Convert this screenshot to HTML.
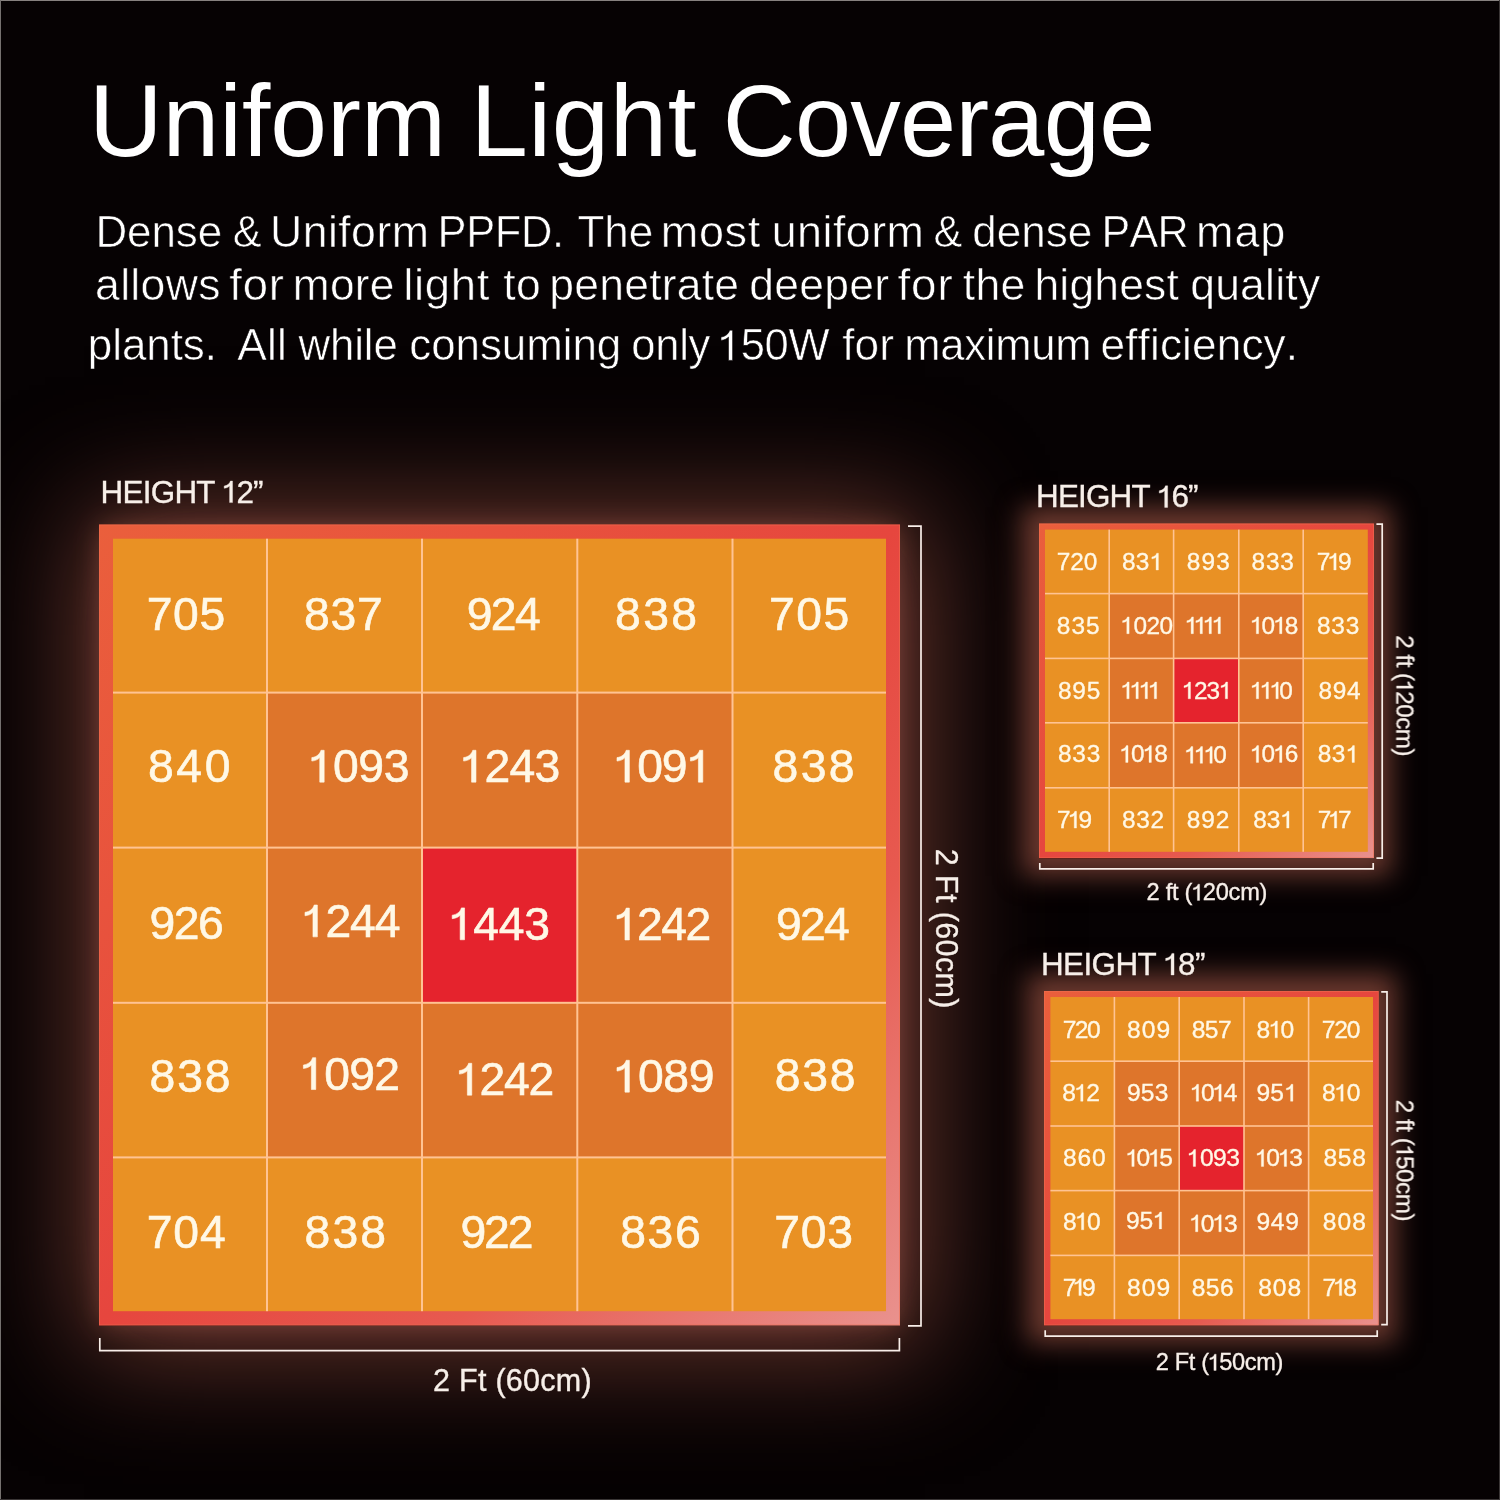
<!DOCTYPE html>
<html><head><meta charset="utf-8"><title>Uniform Light Coverage</title>
<style>
html,body{margin:0;padding:0;background:#060203;}
body{width:1500px;height:1500px;overflow:hidden;position:relative;font-family:"Liberation Sans",sans-serif;}
.gl{position:absolute;}
svg{position:absolute;left:0;top:0;will-change:transform;}
</style></head><body>
<div class="gl" style="left:99px;top:525px;width:801px;height:801px;box-shadow:5px 5px 110px 20px rgb(110,56,47);"></div>
<div class="gl" style="left:99px;top:525px;width:801px;height:801px;box-shadow:0 0 24px 0 rgb(60,31,26);mix-blend-mode:screen;"></div>
<div class="gl" style="left:1039px;top:524px;width:335px;height:335px;box-shadow:0 0 25px 17px #6a382e;"></div>
<div class="gl" style="left:1044px;top:991px;width:335px;height:335px;box-shadow:0 0 25px 17px #6a382e;"></div>
<svg width="1500" height="1500" viewBox="0 0 1500 1500" font-family="'Liberation Sans', sans-serif">
<defs>
<linearGradient id="bgb" x1="0" y1="0" x2="1" y2="1"><stop offset="0" stop-color="#ea5f3c"/><stop offset="0.5" stop-color="#e6463e"/><stop offset="0.72" stop-color="#e75a50"/><stop offset="1" stop-color="#e9928e"/></linearGradient>
<linearGradient id="bg1" x1="0" y1="0" x2="1" y2="1"><stop offset="0" stop-color="#ea5f3c"/><stop offset="0.5" stop-color="#e6463e"/><stop offset="0.72" stop-color="#e75a50"/><stop offset="1" stop-color="#e9928e"/></linearGradient>
<linearGradient id="bg2" x1="0" y1="0" x2="1" y2="1"><stop offset="0" stop-color="#ea5f3c"/><stop offset="0.5" stop-color="#e6463e"/><stop offset="0.72" stop-color="#e75a50"/><stop offset="1" stop-color="#e9928e"/></linearGradient>
</defs>
<rect x="0" y="0" width="1500" height="1" fill="#86817f"/>
<rect x="0" y="0" width="1" height="1500" fill="#75716f"/>
<rect x="1499" y="0" width="1" height="1500" fill="#3a3636"/>
<rect x="0" y="1499" width="1500" height="1" fill="#3a3636"/>
<rect x="99" y="524.5" width="801" height="801" fill="url(#bgb)"/>
<rect x="99.5" y="525.0" width="800" height="800" fill="none" stroke="#ee7050" stroke-opacity="0.55" stroke-width="1"/>
<rect x="113.00" y="538.70" width="154.00" height="153.90" fill="#e99124"/>
<rect x="267.00" y="538.70" width="155.00" height="153.90" fill="#e99124"/>
<rect x="422.00" y="538.70" width="155.30" height="153.90" fill="#e99124"/>
<rect x="577.30" y="538.70" width="155.20" height="153.90" fill="#e99124"/>
<rect x="732.50" y="538.70" width="153.50" height="153.90" fill="#e99124"/>
<rect x="113.00" y="692.60" width="154.00" height="155.00" fill="#e99124"/>
<rect x="267.00" y="692.60" width="155.00" height="155.00" fill="#de752b"/>
<rect x="422.00" y="692.60" width="155.30" height="155.00" fill="#de752b"/>
<rect x="577.30" y="692.60" width="155.20" height="155.00" fill="#de752b"/>
<rect x="732.50" y="692.60" width="153.50" height="155.00" fill="#e99124"/>
<rect x="113.00" y="847.60" width="154.00" height="155.20" fill="#e99124"/>
<rect x="267.00" y="847.60" width="155.00" height="155.20" fill="#de752b"/>
<rect x="422.00" y="847.60" width="155.30" height="155.20" fill="#e5232d"/>
<rect x="577.30" y="847.60" width="155.20" height="155.20" fill="#de752b"/>
<rect x="732.50" y="847.60" width="153.50" height="155.20" fill="#e99124"/>
<rect x="113.00" y="1002.80" width="154.00" height="154.60" fill="#e99124"/>
<rect x="267.00" y="1002.80" width="155.00" height="154.60" fill="#de752b"/>
<rect x="422.00" y="1002.80" width="155.30" height="154.60" fill="#de752b"/>
<rect x="577.30" y="1002.80" width="155.20" height="154.60" fill="#de752b"/>
<rect x="732.50" y="1002.80" width="153.50" height="154.60" fill="#e99124"/>
<rect x="113.00" y="1157.40" width="154.00" height="153.80" fill="#e99124"/>
<rect x="267.00" y="1157.40" width="155.00" height="153.80" fill="#e99124"/>
<rect x="422.00" y="1157.40" width="155.30" height="153.80" fill="#e99124"/>
<rect x="577.30" y="1157.40" width="155.20" height="153.80" fill="#e99124"/>
<rect x="732.50" y="1157.40" width="153.50" height="153.80" fill="#e99124"/>
<rect x="266.00" y="538.7" width="2.0" height="772.5" fill="#ffc393"/>
<rect x="421.00" y="538.7" width="2.0" height="772.5" fill="#ffc393"/>
<rect x="576.30" y="538.7" width="2.0" height="772.5" fill="#ffc393"/>
<rect x="731.50" y="538.7" width="2.0" height="772.5" fill="#ffc393"/>
<rect x="113" y="691.60" width="773" height="2.0" fill="#ffc393"/>
<rect x="113" y="846.60" width="773" height="2.0" fill="#ffc393"/>
<rect x="113" y="1001.80" width="773" height="2.0" fill="#ffc393"/>
<rect x="113" y="1156.40" width="773" height="2.0" fill="#ffc393"/>
<rect x="1039" y="523.5" width="335" height="334.8" fill="url(#bg1)"/>
<rect x="1039.5" y="524.0" width="334" height="333.8" fill="none" stroke="#ee7050" stroke-opacity="0.55" stroke-width="1"/>
<rect x="1045.00" y="529.60" width="64.20" height="64.00" fill="#e99124"/>
<rect x="1109.20" y="529.60" width="64.40" height="64.00" fill="#e99124"/>
<rect x="1173.60" y="529.60" width="65.20" height="64.00" fill="#e99124"/>
<rect x="1238.80" y="529.60" width="64.40" height="64.00" fill="#e99124"/>
<rect x="1303.20" y="529.60" width="64.60" height="64.00" fill="#e99124"/>
<rect x="1045.00" y="593.60" width="64.20" height="64.80" fill="#e99124"/>
<rect x="1109.20" y="593.60" width="64.40" height="64.80" fill="#de752b"/>
<rect x="1173.60" y="593.60" width="65.20" height="64.80" fill="#de752b"/>
<rect x="1238.80" y="593.60" width="64.40" height="64.80" fill="#de752b"/>
<rect x="1303.20" y="593.60" width="64.60" height="64.80" fill="#e99124"/>
<rect x="1045.00" y="658.40" width="64.20" height="64.40" fill="#e99124"/>
<rect x="1109.20" y="658.40" width="64.40" height="64.40" fill="#de752b"/>
<rect x="1173.60" y="658.40" width="65.20" height="64.40" fill="#e5232d"/>
<rect x="1238.80" y="658.40" width="64.40" height="64.40" fill="#de752b"/>
<rect x="1303.20" y="658.40" width="64.60" height="64.40" fill="#e99124"/>
<rect x="1045.00" y="722.80" width="64.20" height="65.00" fill="#e99124"/>
<rect x="1109.20" y="722.80" width="64.40" height="65.00" fill="#de752b"/>
<rect x="1173.60" y="722.80" width="65.20" height="65.00" fill="#de752b"/>
<rect x="1238.80" y="722.80" width="64.40" height="65.00" fill="#de752b"/>
<rect x="1303.20" y="722.80" width="64.60" height="65.00" fill="#e99124"/>
<rect x="1045.00" y="787.80" width="64.20" height="64.00" fill="#e99124"/>
<rect x="1109.20" y="787.80" width="64.40" height="64.00" fill="#e99124"/>
<rect x="1173.60" y="787.80" width="65.20" height="64.00" fill="#e99124"/>
<rect x="1238.80" y="787.80" width="64.40" height="64.00" fill="#e99124"/>
<rect x="1303.20" y="787.80" width="64.60" height="64.00" fill="#e99124"/>
<rect x="1108.40" y="529.6" width="1.6" height="322.2" fill="#ffc393"/>
<rect x="1172.80" y="529.6" width="1.6" height="322.2" fill="#ffc393"/>
<rect x="1238.00" y="529.6" width="1.6" height="322.2" fill="#ffc393"/>
<rect x="1302.40" y="529.6" width="1.6" height="322.2" fill="#ffc393"/>
<rect x="1045" y="592.80" width="322.8" height="1.6" fill="#ffc393"/>
<rect x="1045" y="657.60" width="322.8" height="1.6" fill="#ffc393"/>
<rect x="1045" y="722.00" width="322.8" height="1.6" fill="#ffc393"/>
<rect x="1045" y="787.00" width="322.8" height="1.6" fill="#ffc393"/>
<rect x="1044" y="991" width="334.8" height="334.5" fill="url(#bg2)"/>
<rect x="1044.5" y="991.5" width="333.8" height="333.5" fill="none" stroke="#ee7050" stroke-opacity="0.55" stroke-width="1"/>
<rect x="1050.40" y="997.00" width="64.00" height="64.20" fill="#e99124"/>
<rect x="1114.40" y="997.00" width="64.80" height="64.20" fill="#e99124"/>
<rect x="1179.20" y="997.00" width="64.80" height="64.20" fill="#e99124"/>
<rect x="1244.00" y="997.00" width="64.60" height="64.20" fill="#e99124"/>
<rect x="1308.60" y="997.00" width="64.40" height="64.20" fill="#e99124"/>
<rect x="1050.40" y="1061.20" width="64.00" height="64.80" fill="#e99124"/>
<rect x="1114.40" y="1061.20" width="64.80" height="64.80" fill="#de752b"/>
<rect x="1179.20" y="1061.20" width="64.80" height="64.80" fill="#de752b"/>
<rect x="1244.00" y="1061.20" width="64.60" height="64.80" fill="#de752b"/>
<rect x="1308.60" y="1061.20" width="64.40" height="64.80" fill="#e99124"/>
<rect x="1050.40" y="1126.00" width="64.00" height="64.60" fill="#e99124"/>
<rect x="1114.40" y="1126.00" width="64.80" height="64.60" fill="#de752b"/>
<rect x="1179.20" y="1126.00" width="64.80" height="64.60" fill="#e5232d"/>
<rect x="1244.00" y="1126.00" width="64.60" height="64.60" fill="#de752b"/>
<rect x="1308.60" y="1126.00" width="64.40" height="64.60" fill="#e99124"/>
<rect x="1050.40" y="1190.60" width="64.00" height="64.80" fill="#e99124"/>
<rect x="1114.40" y="1190.60" width="64.80" height="64.80" fill="#de752b"/>
<rect x="1179.20" y="1190.60" width="64.80" height="64.80" fill="#de752b"/>
<rect x="1244.00" y="1190.60" width="64.60" height="64.80" fill="#de752b"/>
<rect x="1308.60" y="1190.60" width="64.40" height="64.80" fill="#e99124"/>
<rect x="1050.40" y="1255.40" width="64.00" height="63.80" fill="#e99124"/>
<rect x="1114.40" y="1255.40" width="64.80" height="63.80" fill="#e99124"/>
<rect x="1179.20" y="1255.40" width="64.80" height="63.80" fill="#e99124"/>
<rect x="1244.00" y="1255.40" width="64.60" height="63.80" fill="#e99124"/>
<rect x="1308.60" y="1255.40" width="64.40" height="63.80" fill="#e99124"/>
<rect x="1113.60" y="997" width="1.6" height="322.2" fill="#ffc393"/>
<rect x="1178.40" y="997" width="1.6" height="322.2" fill="#ffc393"/>
<rect x="1243.20" y="997" width="1.6" height="322.2" fill="#ffc393"/>
<rect x="1307.80" y="997" width="1.6" height="322.2" fill="#ffc393"/>
<rect x="1050.4" y="1060.40" width="322.6" height="1.6" fill="#ffc393"/>
<rect x="1050.4" y="1125.20" width="322.6" height="1.6" fill="#ffc393"/>
<rect x="1050.4" y="1189.80" width="322.6" height="1.6" fill="#ffc393"/>
<rect x="1050.4" y="1254.60" width="322.6" height="1.6" fill="#ffc393"/>
<g transform="translate(0,629.74) scale(1.0000,1)" fill="#fff8e6"><text x="146.63 173.11 199.59" y="0" font-size="46.3" stroke="#fff8e6" stroke-width="0.6">705</text></g>
<g transform="translate(0,629.74) scale(1.0000,1)" fill="#fff8e6"><text x="303.99 330.48 356.98" y="0" font-size="46.3" stroke="#fff8e6" stroke-width="0.6">837</text></g>
<g transform="translate(0,629.74) scale(1.0000,1)" fill="#fff8e6"><text x="466.63 490.87 515.11" y="0" font-size="46.3" stroke="#fff8e6" stroke-width="0.6">924</text></g>
<g transform="translate(0,629.74) scale(1.0000,1)" fill="#fff8e6"><text x="614.99 643.13 671.26" y="0" font-size="46.3" stroke="#fff8e6" stroke-width="0.6">838</text></g>
<g transform="translate(0,629.74) scale(1.0000,1)" fill="#fff8e6"><text x="769.03 796.31 823.59" y="0" font-size="46.3" stroke="#fff8e6" stroke-width="0.6">705</text></g>
<g transform="translate(0,782.14) scale(1.0000,1)" fill="#fff8e6"><text x="147.99 176.32 204.66" y="0" font-size="46.3" stroke="#fff8e6" stroke-width="0.6">840</text></g>
<g transform="translate(0,782.14) scale(1.0000,1)" fill="#fff8e6"><text x="332.92 358.30 383.68" y="0" font-size="46.3" stroke="#fff8e6" stroke-width="0.6">093</text><path d="M0.264,0 L0.359,0 L0.359,0.688 L0.290,0.688 C0.270,0.610 0.200,0.545 0.092,0.530 L0.092,0.455 C0.170,0.462 0.230,0.490 0.264,0.530 Z" transform="translate(307.54,0) scale(46.3,-46.3)" stroke="#fff8e6" stroke-width="0.0130"/></g>
<g transform="translate(0,782.14) scale(1.0000,1)" fill="#fff8e6"><text x="484.42 509.50 534.58" y="0" font-size="46.3" stroke="#fff8e6" stroke-width="0.6">243</text><path d="M0.264,0 L0.359,0 L0.359,0.688 L0.290,0.688 C0.270,0.610 0.200,0.545 0.092,0.530 L0.092,0.455 C0.170,0.462 0.230,0.490 0.264,0.530 Z" transform="translate(459.34,0) scale(46.3,-46.3)" stroke="#fff8e6" stroke-width="0.0130"/></g>
<g transform="translate(0,782.14) scale(1.0000,1)" fill="#fff8e6"><text x="637.22 661.70" y="0" font-size="46.3" stroke="#fff8e6" stroke-width="0.6">09</text><path d="M0.264,0 L0.359,0 L0.359,0.688 L0.290,0.688 C0.270,0.610 0.200,0.545 0.092,0.530 L0.092,0.455 C0.170,0.462 0.230,0.490 0.264,0.530 Z" transform="translate(612.74,0) scale(46.3,-46.3)" stroke="#fff8e6" stroke-width="0.0130"/><path d="M0.264,0 L0.359,0 L0.359,0.688 L0.290,0.688 C0.270,0.610 0.200,0.545 0.092,0.530 L0.092,0.455 C0.170,0.462 0.230,0.490 0.264,0.530 Z" transform="translate(686.18,0) scale(46.3,-46.3)" stroke="#fff8e6" stroke-width="0.0130"/></g>
<g transform="translate(0,782.14) scale(1.0000,1)" fill="#fff8e6"><text x="772.59 800.73 828.86" y="0" font-size="46.3" stroke="#fff8e6" stroke-width="0.6">838</text></g>
<g transform="translate(0,939.24) scale(1.0000,1)" fill="#fff8e6"><text x="149.43 173.76 198.08" y="0" font-size="46.3" stroke="#fff8e6" stroke-width="0.6">926</text></g>
<g transform="translate(0,936.86) scale(1.0000,1)" fill="#fff8e6"><text x="325.40 350.05 374.71" y="0" font-size="46.3" stroke="#fff8e6" stroke-width="0.6">244</text><path d="M0.264,0 L0.359,0 L0.359,0.688 L0.290,0.688 C0.270,0.610 0.200,0.545 0.092,0.530 L0.092,0.455 C0.170,0.462 0.230,0.490 0.264,0.530 Z" transform="translate(300.74,0) scale(46.3,-46.3)" stroke="#fff8e6" stroke-width="0.0130"/></g>
<g transform="translate(0,939.74) scale(1.0000,1)" fill="#fff8e6"><text x="473.36 498.77 524.18" y="0" font-size="46.3" stroke="#fff8e6" stroke-width="0.6">443</text><path d="M0.264,0 L0.359,0 L0.359,0.688 L0.290,0.688 C0.270,0.610 0.200,0.545 0.092,0.530 L0.092,0.455 C0.170,0.462 0.230,0.490 0.264,0.530 Z" transform="translate(447.94,0) scale(46.3,-46.3)" stroke="#fff8e6" stroke-width="0.0130"/></g>
<g transform="translate(0,939.96) scale(1.0000,1)" fill="#fff8e6"><text x="637.02 661.30 685.58" y="0" font-size="46.3" stroke="#fff8e6" stroke-width="0.6">242</text><path d="M0.264,0 L0.359,0 L0.359,0.688 L0.290,0.688 C0.270,0.610 0.200,0.545 0.092,0.530 L0.092,0.455 C0.170,0.462 0.230,0.490 0.264,0.530 Z" transform="translate(612.74,0) scale(46.3,-46.3)" stroke="#fff8e6" stroke-width="0.0130"/></g>
<g transform="translate(0,939.74) scale(1.0000,1)" fill="#fff8e6"><text x="776.03 800.02 824.01" y="0" font-size="46.3" stroke="#fff8e6" stroke-width="0.6">924</text></g>
<g transform="translate(0,1092.14) scale(1.0000,1)" fill="#fff8e6"><text x="149.59 177.23 204.86" y="0" font-size="46.3" stroke="#fff8e6" stroke-width="0.6">838</text></g>
<g transform="translate(0,1089.54) scale(1.0000,1)" fill="#fff8e6"><text x="324.15 349.17 374.18" y="0" font-size="46.3" stroke="#fff8e6" stroke-width="0.6">092</text><path d="M0.264,0 L0.359,0 L0.359,0.688 L0.290,0.688 C0.270,0.610 0.200,0.545 0.092,0.530 L0.092,0.455 C0.170,0.462 0.230,0.490 0.264,0.530 Z" transform="translate(299.14,0) scale(46.3,-46.3)" stroke="#fff8e6" stroke-width="0.0130"/></g>
<g transform="translate(0,1095.16) scale(1.0000,1)" fill="#fff8e6"><text x="479.62 504.10 528.58" y="0" font-size="46.3" stroke="#fff8e6" stroke-width="0.6">242</text><path d="M0.264,0 L0.359,0 L0.359,0.688 L0.290,0.688 C0.270,0.610 0.200,0.545 0.092,0.530 L0.092,0.455 C0.170,0.462 0.230,0.490 0.264,0.530 Z" transform="translate(455.14,0) scale(46.3,-46.3)" stroke="#fff8e6" stroke-width="0.0130"/></g>
<g transform="translate(0,1092.14) scale(1.0000,1)" fill="#fff8e6"><text x="638.04 663.34 688.64" y="0" font-size="46.3" stroke="#fff8e6" stroke-width="0.6">089</text><path d="M0.264,0 L0.359,0 L0.359,0.688 L0.290,0.688 C0.270,0.610 0.200,0.545 0.092,0.530 L0.092,0.455 C0.170,0.462 0.230,0.490 0.264,0.530 Z" transform="translate(612.74,0) scale(46.3,-46.3)" stroke="#fff8e6" stroke-width="0.0130"/></g>
<g transform="translate(0,1090.54) scale(1.0000,1)" fill="#fff8e6"><text x="774.69 802.28 829.86" y="0" font-size="46.3" stroke="#fff8e6" stroke-width="0.6">838</text></g>
<g transform="translate(0,1248.24) scale(1.0000,1)" fill="#fff8e6"><text x="146.63 173.32 200.01" y="0" font-size="46.3" stroke="#fff8e6" stroke-width="0.6">704</text></g>
<g transform="translate(0,1248.24) scale(1.0000,1)" fill="#fff8e6"><text x="304.59 332.43 360.26" y="0" font-size="46.3" stroke="#fff8e6" stroke-width="0.6">838</text></g>
<g transform="translate(0,1248.24) scale(1.0000,1)" fill="#fff8e6"><text x="460.43 484.10 507.78" y="0" font-size="46.3" stroke="#fff8e6" stroke-width="0.6">922</text></g>
<g transform="translate(0,1248.24) scale(1.0000,1)" fill="#fff8e6"><text x="620.19 647.59 674.98" y="0" font-size="46.3" stroke="#fff8e6" stroke-width="0.6">836</text></g>
<g transform="translate(0,1248.24) scale(1.0000,1)" fill="#fff8e6"><text x="774.33 800.81 827.28" y="0" font-size="46.3" stroke="#fff8e6" stroke-width="0.6">703</text></g>
<g transform="translate(0,570.00) scale(1.0000,1)" fill="#fff8e6"><text x="1056.65 1070.17 1083.68" y="0" font-size="24.4" stroke="#fff8e6" stroke-width="0.35">720</text></g>
<g transform="translate(0,570.00) scale(1.0000,1)" fill="#fff8e6"><text x="1122.04 1135.84" y="0" font-size="24.4" stroke="#fff8e6" stroke-width="0.35">83</text><path d="M0.264,0 L0.359,0 L0.359,0.688 L0.290,0.688 C0.270,0.610 0.200,0.545 0.092,0.530 L0.092,0.455 C0.170,0.462 0.230,0.490 0.264,0.530 Z" transform="translate(1149.64,0) scale(24.4,-24.4)" stroke="#fff8e6" stroke-width="0.0143"/></g>
<g transform="translate(0,570.00) scale(1.0000,1)" fill="#fff8e6"><text x="1186.74 1201.47 1216.20" y="0" font-size="24.4" stroke="#fff8e6" stroke-width="0.35">893</text></g>
<g transform="translate(0,570.00) scale(1.0000,1)" fill="#fff8e6"><text x="1251.54 1265.92 1280.30" y="0" font-size="24.4" stroke="#fff8e6" stroke-width="0.35">833</text></g>
<g transform="translate(0,570.00) scale(1.0000,1)" fill="#fff8e6"><text x="1316.75 1337.99" y="0" font-size="24.4" stroke="#fff8e6" stroke-width="0.35">79</text><path d="M0.264,0 L0.359,0 L0.359,0.688 L0.290,0.688 C0.270,0.610 0.200,0.545 0.092,0.530 L0.092,0.455 C0.170,0.462 0.230,0.490 0.264,0.530 Z" transform="translate(1327.37,0) scale(24.4,-24.4)" stroke="#fff8e6" stroke-width="0.0143"/></g>
<g transform="translate(0,633.70) scale(1.0000,1)" fill="#fff8e6"><text x="1056.84 1071.40 1085.95" y="0" font-size="24.4" stroke="#fff8e6" stroke-width="0.35">835</text></g>
<g transform="translate(0,633.70) scale(1.0000,1)" fill="#fff8e6"><text x="1133.43 1146.51 1159.58" y="0" font-size="24.4" stroke="#fff8e6" stroke-width="0.35">020</text><path d="M0.264,0 L0.359,0 L0.359,0.688 L0.290,0.688 C0.270,0.610 0.200,0.545 0.092,0.530 L0.092,0.455 C0.170,0.462 0.230,0.490 0.264,0.530 Z" transform="translate(1120.36,0) scale(24.4,-24.4)" stroke="#fff8e6" stroke-width="0.0143"/></g>
<g transform="translate(0,633.69) scale(1.0000,1)" fill="#fff8e6"><path d="M0.264,0 L0.359,0 L0.359,0.688 L0.290,0.688 C0.270,0.610 0.200,0.545 0.092,0.530 L0.092,0.455 C0.170,0.462 0.230,0.490 0.264,0.530 Z" transform="translate(1184.66,0) scale(24.4,-24.4)" stroke="#fff8e6" stroke-width="0.0143"/><path d="M0.264,0 L0.359,0 L0.359,0.688 L0.290,0.688 C0.270,0.610 0.200,0.545 0.092,0.530 L0.092,0.455 C0.170,0.462 0.230,0.490 0.264,0.530 Z" transform="translate(1193.65,0) scale(24.4,-24.4)" stroke="#fff8e6" stroke-width="0.0143"/><path d="M0.264,0 L0.359,0 L0.359,0.688 L0.290,0.688 C0.270,0.610 0.200,0.545 0.092,0.530 L0.092,0.455 C0.170,0.462 0.230,0.490 0.264,0.530 Z" transform="translate(1202.65,0) scale(24.4,-24.4)" stroke="#fff8e6" stroke-width="0.0143"/><path d="M0.264,0 L0.359,0 L0.359,0.688 L0.290,0.688 C0.270,0.610 0.200,0.545 0.092,0.530 L0.092,0.455 C0.170,0.462 0.230,0.490 0.264,0.530 Z" transform="translate(1211.64,0) scale(24.4,-24.4)" stroke="#fff8e6" stroke-width="0.0143"/></g>
<g transform="translate(0,633.70) scale(1.0000,1)" fill="#fff8e6"><text x="1261.50 1284.79" y="0" font-size="24.4" stroke="#fff8e6" stroke-width="0.35">08</text><path d="M0.264,0 L0.359,0 L0.359,0.688 L0.290,0.688 C0.270,0.610 0.200,0.545 0.092,0.530 L0.092,0.455 C0.170,0.462 0.230,0.490 0.264,0.530 Z" transform="translate(1249.86,0) scale(24.4,-24.4)" stroke="#fff8e6" stroke-width="0.0143"/><path d="M0.264,0 L0.359,0 L0.359,0.688 L0.290,0.688 C0.270,0.610 0.200,0.545 0.092,0.530 L0.092,0.455 C0.170,0.462 0.230,0.490 0.264,0.530 Z" transform="translate(1273.15,0) scale(24.4,-24.4)" stroke="#fff8e6" stroke-width="0.0143"/></g>
<g transform="translate(0,633.70) scale(1.0000,1)" fill="#fff8e6"><text x="1316.94 1331.32 1345.70" y="0" font-size="24.4" stroke="#fff8e6" stroke-width="0.35">833</text></g>
<g transform="translate(0,698.80) scale(1.0000,1)" fill="#fff8e6"><text x="1057.94 1072.30 1086.65" y="0" font-size="24.4" stroke="#fff8e6" stroke-width="0.35">895</text></g>
<g transform="translate(0,698.79) scale(1.0000,1)" fill="#fff8e6"><path d="M0.264,0 L0.359,0 L0.359,0.688 L0.290,0.688 C0.270,0.610 0.200,0.545 0.092,0.530 L0.092,0.455 C0.170,0.462 0.230,0.490 0.264,0.530 Z" transform="translate(1120.36,0) scale(24.4,-24.4)" stroke="#fff8e6" stroke-width="0.0143"/><path d="M0.264,0 L0.359,0 L0.359,0.688 L0.290,0.688 C0.270,0.610 0.200,0.545 0.092,0.530 L0.092,0.455 C0.170,0.462 0.230,0.490 0.264,0.530 Z" transform="translate(1129.52,0) scale(24.4,-24.4)" stroke="#fff8e6" stroke-width="0.0143"/><path d="M0.264,0 L0.359,0 L0.359,0.688 L0.290,0.688 C0.270,0.610 0.200,0.545 0.092,0.530 L0.092,0.455 C0.170,0.462 0.230,0.490 0.264,0.530 Z" transform="translate(1138.68,0) scale(24.4,-24.4)" stroke="#fff8e6" stroke-width="0.0143"/><path d="M0.264,0 L0.359,0 L0.359,0.688 L0.290,0.688 C0.270,0.610 0.200,0.545 0.092,0.530 L0.092,0.455 C0.170,0.462 0.230,0.490 0.264,0.530 Z" transform="translate(1147.84,0) scale(24.4,-24.4)" stroke="#fff8e6" stroke-width="0.0143"/></g>
<g transform="translate(0,698.80) scale(1.0000,1)" fill="#fff8e6"><text x="1194.12 1206.48" y="0" font-size="24.4" stroke="#fff8e6" stroke-width="0.35">23</text><path d="M0.264,0 L0.359,0 L0.359,0.688 L0.290,0.688 C0.270,0.610 0.200,0.545 0.092,0.530 L0.092,0.455 C0.170,0.462 0.230,0.490 0.264,0.530 Z" transform="translate(1181.76,0) scale(24.4,-24.4)" stroke="#fff8e6" stroke-width="0.0143"/><path d="M0.264,0 L0.359,0 L0.359,0.688 L0.290,0.688 C0.270,0.610 0.200,0.545 0.092,0.530 L0.092,0.455 C0.170,0.462 0.230,0.490 0.264,0.530 Z" transform="translate(1218.84,0) scale(24.4,-24.4)" stroke="#fff8e6" stroke-width="0.0143"/></g>
<g transform="translate(0,698.80) scale(1.0000,1)" fill="#fff8e6"><text x="1279.28" y="0" font-size="24.4" stroke="#fff8e6" stroke-width="0.35">0</text><path d="M0.264,0 L0.359,0 L0.359,0.688 L0.290,0.688 C0.270,0.610 0.200,0.545 0.092,0.530 L0.092,0.455 C0.170,0.462 0.230,0.490 0.264,0.530 Z" transform="translate(1249.86,0) scale(24.4,-24.4)" stroke="#fff8e6" stroke-width="0.0143"/><path d="M0.264,0 L0.359,0 L0.359,0.688 L0.290,0.688 C0.270,0.610 0.200,0.545 0.092,0.530 L0.092,0.455 C0.170,0.462 0.230,0.490 0.264,0.530 Z" transform="translate(1259.66,0) scale(24.4,-24.4)" stroke="#fff8e6" stroke-width="0.0143"/><path d="M0.264,0 L0.359,0 L0.359,0.688 L0.290,0.688 C0.270,0.610 0.200,0.545 0.092,0.530 L0.092,0.455 C0.170,0.462 0.230,0.490 0.264,0.530 Z" transform="translate(1269.47,0) scale(24.4,-24.4)" stroke="#fff8e6" stroke-width="0.0143"/></g>
<g transform="translate(0,698.80) scale(1.0000,1)" fill="#fff8e6"><text x="1318.54 1332.74 1346.94" y="0" font-size="24.4" stroke="#fff8e6" stroke-width="0.35">894</text></g>
<g transform="translate(0,762.40) scale(1.0000,1)" fill="#fff8e6"><text x="1057.94 1072.32 1086.70" y="0" font-size="24.4" stroke="#fff8e6" stroke-width="0.35">833</text></g>
<g transform="translate(0,762.40) scale(1.0000,1)" fill="#fff8e6"><text x="1130.93 1154.29" y="0" font-size="24.4" stroke="#fff8e6" stroke-width="0.35">08</text><path d="M0.264,0 L0.359,0 L0.359,0.688 L0.290,0.688 C0.270,0.610 0.200,0.545 0.092,0.530 L0.092,0.455 C0.170,0.462 0.230,0.490 0.264,0.530 Z" transform="translate(1119.26,0) scale(24.4,-24.4)" stroke="#fff8e6" stroke-width="0.0143"/><path d="M0.264,0 L0.359,0 L0.359,0.688 L0.290,0.688 C0.270,0.610 0.200,0.545 0.092,0.530 L0.092,0.455 C0.170,0.462 0.230,0.490 0.264,0.530 Z" transform="translate(1142.61,0) scale(24.4,-24.4)" stroke="#fff8e6" stroke-width="0.0143"/></g>
<g transform="translate(0,763.35) scale(1.0000,1)" fill="#fff8e6"><text x="1213.18" y="0" font-size="24.4" stroke="#fff8e6" stroke-width="0.35">0</text><path d="M0.264,0 L0.359,0 L0.359,0.688 L0.290,0.688 C0.270,0.610 0.200,0.545 0.092,0.530 L0.092,0.455 C0.170,0.462 0.230,0.490 0.264,0.530 Z" transform="translate(1184.06,0) scale(24.4,-24.4)" stroke="#fff8e6" stroke-width="0.0143"/><path d="M0.264,0 L0.359,0 L0.359,0.688 L0.290,0.688 C0.270,0.610 0.200,0.545 0.092,0.530 L0.092,0.455 C0.170,0.462 0.230,0.490 0.264,0.530 Z" transform="translate(1193.76,0) scale(24.4,-24.4)" stroke="#fff8e6" stroke-width="0.0143"/><path d="M0.264,0 L0.359,0 L0.359,0.688 L0.290,0.688 C0.270,0.610 0.200,0.545 0.092,0.530 L0.092,0.455 C0.170,0.462 0.230,0.490 0.264,0.530 Z" transform="translate(1203.47,0) scale(24.4,-24.4)" stroke="#fff8e6" stroke-width="0.0143"/></g>
<g transform="translate(0,762.40) scale(1.0000,1)" fill="#fff8e6"><text x="1261.50 1284.80" y="0" font-size="24.4" stroke="#fff8e6" stroke-width="0.35">06</text><path d="M0.264,0 L0.359,0 L0.359,0.688 L0.290,0.688 C0.270,0.610 0.200,0.545 0.092,0.530 L0.092,0.455 C0.170,0.462 0.230,0.490 0.264,0.530 Z" transform="translate(1249.86,0) scale(24.4,-24.4)" stroke="#fff8e6" stroke-width="0.0143"/><path d="M0.264,0 L0.359,0 L0.359,0.688 L0.290,0.688 C0.270,0.610 0.200,0.545 0.092,0.530 L0.092,0.455 C0.170,0.462 0.230,0.490 0.264,0.530 Z" transform="translate(1273.15,0) scale(24.4,-24.4)" stroke="#fff8e6" stroke-width="0.0143"/></g>
<g transform="translate(0,762.40) scale(1.0000,1)" fill="#fff8e6"><text x="1317.64 1331.64" y="0" font-size="24.4" stroke="#fff8e6" stroke-width="0.35">83</text><path d="M0.264,0 L0.359,0 L0.359,0.688 L0.290,0.688 C0.270,0.610 0.200,0.545 0.092,0.530 L0.092,0.455 C0.170,0.462 0.230,0.490 0.264,0.530 Z" transform="translate(1345.64,0) scale(24.4,-24.4)" stroke="#fff8e6" stroke-width="0.0143"/></g>
<g transform="translate(0,828.10) scale(1.0000,1)" fill="#fff8e6"><text x="1057.05 1078.49" y="0" font-size="24.4" stroke="#fff8e6" stroke-width="0.35">79</text><path d="M0.264,0 L0.359,0 L0.359,0.688 L0.290,0.688 C0.270,0.610 0.200,0.545 0.092,0.530 L0.092,0.455 C0.170,0.462 0.230,0.490 0.264,0.530 Z" transform="translate(1067.77,0) scale(24.4,-24.4)" stroke="#fff8e6" stroke-width="0.0143"/></g>
<g transform="translate(0,828.10) scale(1.0000,1)" fill="#fff8e6"><text x="1122.04 1136.25 1150.46" y="0" font-size="24.4" stroke="#fff8e6" stroke-width="0.35">832</text></g>
<g transform="translate(0,828.10) scale(1.0000,1)" fill="#fff8e6"><text x="1186.74 1201.20 1215.66" y="0" font-size="24.4" stroke="#fff8e6" stroke-width="0.35">892</text></g>
<g transform="translate(0,828.10) scale(1.0000,1)" fill="#fff8e6"><text x="1253.34 1266.79" y="0" font-size="24.4" stroke="#fff8e6" stroke-width="0.35">83</text><path d="M0.264,0 L0.359,0 L0.359,0.688 L0.290,0.688 C0.270,0.610 0.200,0.545 0.092,0.530 L0.092,0.455 C0.170,0.462 0.230,0.490 0.264,0.530 Z" transform="translate(1280.24,0) scale(24.4,-24.4)" stroke="#fff8e6" stroke-width="0.0143"/></g>
<g transform="translate(0,828.09) scale(1.0000,1)" fill="#fff8e6"><text x="1317.85 1338.06" y="0" font-size="24.4" stroke="#fff8e6" stroke-width="0.35">77</text><path d="M0.264,0 L0.359,0 L0.359,0.688 L0.290,0.688 C0.270,0.610 0.200,0.545 0.092,0.530 L0.092,0.455 C0.170,0.462 0.230,0.490 0.264,0.530 Z" transform="translate(1327.95,0) scale(24.4,-24.4)" stroke="#fff8e6" stroke-width="0.0143"/></g>
<g transform="translate(0,1037.87) scale(1.0000,1)" fill="#fff8e6"><text x="1062.74 1074.86 1086.98" y="0" font-size="24.6" stroke="#fff8e6" stroke-width="0.35">720</text></g>
<g transform="translate(0,1037.87) scale(1.0000,1)" fill="#fff8e6"><text x="1127.03 1141.71 1156.38" y="0" font-size="24.6" stroke="#fff8e6" stroke-width="0.35">809</text></g>
<g transform="translate(0,1037.87) scale(1.0000,1)" fill="#fff8e6"><text x="1191.73 1204.84 1217.96" y="0" font-size="24.6" stroke="#fff8e6" stroke-width="0.35">857</text></g>
<g transform="translate(0,1037.87) scale(1.0000,1)" fill="#fff8e6"><text x="1256.53 1280.58" y="0" font-size="24.6" stroke="#fff8e6" stroke-width="0.35">80</text><path d="M0.264,0 L0.359,0 L0.359,0.688 L0.290,0.688 C0.270,0.610 0.200,0.545 0.092,0.530 L0.092,0.455 C0.170,0.462 0.230,0.490 0.264,0.530 Z" transform="translate(1268.56,0) scale(24.6,-24.6)" stroke="#fff8e6" stroke-width="0.0142"/></g>
<g transform="translate(0,1037.87) scale(1.0000,1)" fill="#fff8e6"><text x="1321.74 1334.21 1346.68" y="0" font-size="24.6" stroke="#fff8e6" stroke-width="0.35">720</text></g>
<g transform="translate(0,1101.22) scale(1.0000,1)" fill="#fff8e6"><text x="1062.23 1086.16" y="0" font-size="24.6" stroke="#fff8e6" stroke-width="0.35">82</text><path d="M0.264,0 L0.359,0 L0.359,0.688 L0.290,0.688 C0.270,0.610 0.200,0.545 0.092,0.530 L0.092,0.455 C0.170,0.462 0.230,0.490 0.264,0.530 Z" transform="translate(1074.19,0) scale(24.6,-24.6)" stroke="#fff8e6" stroke-width="0.0142"/></g>
<g transform="translate(0,1101.22) scale(1.0000,1)" fill="#fff8e6"><text x="1126.95 1140.87 1154.80" y="0" font-size="24.6" stroke="#fff8e6" stroke-width="0.35">953</text></g>
<g transform="translate(0,1101.22) scale(1.0000,1)" fill="#fff8e6"><text x="1201.04 1223.64" y="0" font-size="24.6" stroke="#fff8e6" stroke-width="0.35">04</text><path d="M0.264,0 L0.359,0 L0.359,0.688 L0.290,0.688 C0.270,0.610 0.200,0.545 0.092,0.530 L0.092,0.455 C0.170,0.462 0.230,0.490 0.264,0.530 Z" transform="translate(1189.74,0) scale(24.6,-24.6)" stroke="#fff8e6" stroke-width="0.0142"/><path d="M0.264,0 L0.359,0 L0.359,0.688 L0.290,0.688 C0.270,0.610 0.200,0.545 0.092,0.530 L0.092,0.455 C0.170,0.462 0.230,0.490 0.264,0.530 Z" transform="translate(1212.34,0) scale(24.6,-24.6)" stroke="#fff8e6" stroke-width="0.0142"/></g>
<g transform="translate(0,1101.22) scale(1.0000,1)" fill="#fff8e6"><text x="1256.45 1270.26" y="0" font-size="24.6" stroke="#fff8e6" stroke-width="0.35">95</text><path d="M0.264,0 L0.359,0 L0.359,0.688 L0.290,0.688 C0.270,0.610 0.200,0.545 0.092,0.530 L0.092,0.455 C0.170,0.462 0.230,0.490 0.264,0.530 Z" transform="translate(1284.07,0) scale(24.6,-24.6)" stroke="#fff8e6" stroke-width="0.0142"/></g>
<g transform="translate(0,1101.22) scale(1.0000,1)" fill="#fff8e6"><text x="1321.93 1346.68" y="0" font-size="24.6" stroke="#fff8e6" stroke-width="0.35">80</text><path d="M0.264,0 L0.359,0 L0.359,0.688 L0.290,0.688 C0.270,0.610 0.200,0.545 0.092,0.530 L0.092,0.455 C0.170,0.462 0.230,0.490 0.264,0.530 Z" transform="translate(1334.31,0) scale(24.6,-24.6)" stroke="#fff8e6" stroke-width="0.0142"/></g>
<g transform="translate(0,1166.42) scale(1.0000,1)" fill="#fff8e6"><text x="1062.93 1077.51 1092.08" y="0" font-size="24.6" stroke="#fff8e6" stroke-width="0.35">860</text></g>
<g transform="translate(0,1166.42) scale(1.0000,1)" fill="#fff8e6"><text x="1136.61 1159.15" y="0" font-size="24.6" stroke="#fff8e6" stroke-width="0.35">05</text><path d="M0.264,0 L0.359,0 L0.359,0.688 L0.290,0.688 C0.270,0.610 0.200,0.545 0.092,0.530 L0.092,0.455 C0.170,0.462 0.230,0.490 0.264,0.530 Z" transform="translate(1125.34,0) scale(24.6,-24.6)" stroke="#fff8e6" stroke-width="0.0142"/><path d="M0.264,0 L0.359,0 L0.359,0.688 L0.290,0.688 C0.270,0.610 0.200,0.545 0.092,0.530 L0.092,0.455 C0.170,0.462 0.230,0.490 0.264,0.530 Z" transform="translate(1147.88,0) scale(24.6,-24.6)" stroke="#fff8e6" stroke-width="0.0142"/></g>
<g transform="translate(0,1166.42) scale(1.0000,1)" fill="#fff8e6"><text x="1199.89 1213.05 1226.20" y="0" font-size="24.6" stroke="#fff8e6" stroke-width="0.35">093</text><path d="M0.264,0 L0.359,0 L0.359,0.688 L0.290,0.688 C0.270,0.610 0.200,0.545 0.092,0.530 L0.092,0.455 C0.170,0.462 0.230,0.490 0.264,0.530 Z" transform="translate(1186.74,0) scale(24.6,-24.6)" stroke="#fff8e6" stroke-width="0.0142"/></g>
<g transform="translate(0,1166.42) scale(1.0000,1)" fill="#fff8e6"><text x="1266.29 1289.20" y="0" font-size="24.6" stroke="#fff8e6" stroke-width="0.35">03</text><path d="M0.264,0 L0.359,0 L0.359,0.688 L0.290,0.688 C0.270,0.610 0.200,0.545 0.092,0.530 L0.092,0.455 C0.170,0.462 0.230,0.490 0.264,0.530 Z" transform="translate(1254.84,0) scale(24.6,-24.6)" stroke="#fff8e6" stroke-width="0.0142"/><path d="M0.264,0 L0.359,0 L0.359,0.688 L0.290,0.688 C0.270,0.610 0.200,0.545 0.092,0.530 L0.092,0.455 C0.170,0.462 0.230,0.490 0.264,0.530 Z" transform="translate(1277.75,0) scale(24.6,-24.6)" stroke="#fff8e6" stroke-width="0.0142"/></g>
<g transform="translate(0,1166.42) scale(1.0000,1)" fill="#fff8e6"><text x="1323.53 1337.86 1352.19" y="0" font-size="24.6" stroke="#fff8e6" stroke-width="0.35">858</text></g>
<g transform="translate(0,1229.77) scale(1.0000,1)" fill="#fff8e6"><text x="1062.93 1086.98" y="0" font-size="24.6" stroke="#fff8e6" stroke-width="0.35">80</text><path d="M0.264,0 L0.359,0 L0.359,0.688 L0.290,0.688 C0.270,0.610 0.200,0.545 0.092,0.530 L0.092,0.455 C0.170,0.462 0.230,0.490 0.264,0.530 Z" transform="translate(1074.96,0) scale(24.6,-24.6)" stroke="#fff8e6" stroke-width="0.0142"/></g>
<g transform="translate(0,1228.92) scale(1.0000,1)" fill="#fff8e6"><text x="1126.05 1139.41" y="0" font-size="24.6" stroke="#fff8e6" stroke-width="0.35">95</text><path d="M0.264,0 L0.359,0 L0.359,0.688 L0.290,0.688 C0.270,0.610 0.200,0.545 0.092,0.530 L0.092,0.455 C0.170,0.462 0.230,0.490 0.264,0.530 Z" transform="translate(1152.77,0) scale(24.6,-24.6)" stroke="#fff8e6" stroke-width="0.0142"/></g>
<g transform="translate(0,1231.77) scale(1.0000,1)" fill="#fff8e6"><text x="1200.69 1224.00" y="0" font-size="24.6" stroke="#fff8e6" stroke-width="0.35">03</text><path d="M0.264,0 L0.359,0 L0.359,0.688 L0.290,0.688 C0.270,0.610 0.200,0.545 0.092,0.530 L0.092,0.455 C0.170,0.462 0.230,0.490 0.264,0.530 Z" transform="translate(1189.04,0) scale(24.6,-24.6)" stroke="#fff8e6" stroke-width="0.0142"/><path d="M0.264,0 L0.359,0 L0.359,0.688 L0.290,0.688 C0.270,0.610 0.200,0.545 0.092,0.530 L0.092,0.455 C0.170,0.462 0.230,0.490 0.264,0.530 Z" transform="translate(1212.35,0) scale(24.6,-24.6)" stroke="#fff8e6" stroke-width="0.0142"/></g>
<g transform="translate(0,1229.77) scale(1.0000,1)" fill="#fff8e6"><text x="1256.45 1270.87 1285.28" y="0" font-size="24.6" stroke="#fff8e6" stroke-width="0.35">949</text></g>
<g transform="translate(0,1229.77) scale(1.0000,1)" fill="#fff8e6"><text x="1322.63 1337.41 1352.19" y="0" font-size="24.6" stroke="#fff8e6" stroke-width="0.35">808</text></g>
<g transform="translate(0,1295.62) scale(1.0000,1)" fill="#fff8e6"><text x="1062.74 1082.08" y="0" font-size="24.6" stroke="#fff8e6" stroke-width="0.35">79</text><path d="M0.264,0 L0.359,0 L0.359,0.688 L0.290,0.688 C0.270,0.610 0.200,0.545 0.092,0.530 L0.092,0.455 C0.170,0.462 0.230,0.490 0.264,0.530 Z" transform="translate(1072.41,0) scale(24.6,-24.6)" stroke="#fff8e6" stroke-width="0.0142"/></g>
<g transform="translate(0,1295.62) scale(1.0000,1)" fill="#fff8e6"><text x="1127.03 1141.71 1156.38" y="0" font-size="24.6" stroke="#fff8e6" stroke-width="0.35">809</text></g>
<g transform="translate(0,1295.62) scale(1.0000,1)" fill="#fff8e6"><text x="1191.73 1205.87 1220.00" y="0" font-size="24.6" stroke="#fff8e6" stroke-width="0.35">856</text></g>
<g transform="translate(0,1295.62) scale(1.0000,1)" fill="#fff8e6"><text x="1258.33 1272.86 1287.39" y="0" font-size="24.6" stroke="#fff8e6" stroke-width="0.35">808</text></g>
<g transform="translate(0,1295.62) scale(1.0000,1)" fill="#fff8e6"><text x="1322.44 1343.29" y="0" font-size="24.6" stroke="#fff8e6" stroke-width="0.35">78</text><path d="M0.264,0 L0.359,0 L0.359,0.688 L0.290,0.688 C0.270,0.610 0.200,0.545 0.092,0.530 L0.092,0.455 C0.170,0.462 0.230,0.490 0.264,0.530 Z" transform="translate(1332.86,0) scale(24.6,-24.6)" stroke="#fff8e6" stroke-width="0.0142"/></g>
<path d="M908.00,526.20 H921.00 V1325.80 H908.00" fill="none" stroke="#f8eee9" stroke-width="1.7"/>
<path d="M99.80,1338.00 V1350.60 H899.40 V1338.00" fill="none" stroke="#f8eee9" stroke-width="1.7"/>
<path d="M1376.40,524.20 H1382.20 V858.20 H1376.40" fill="none" stroke="#f8eee9" stroke-width="1.7"/>
<path d="M1039.80,863.00 V868.80 H1373.20 V863.00" fill="none" stroke="#f8eee9" stroke-width="1.7"/>
<path d="M1381.20,991.80 H1387.00 V1324.60 H1381.20" fill="none" stroke="#f8eee9" stroke-width="1.7"/>
<path d="M1045.20,1330.20 V1336.20 H1377.20 V1330.20" fill="none" stroke="#f8eee9" stroke-width="1.7"/>
<g transform="translate(0,502.60) scale(1.0000,1)" fill="#f7efe9"><text x="100.62 122.55 142.74 150.71 174.38 196.30 236.38 253.09" y="0" font-size="31.4" stroke="#f7efe9" stroke-width="0.35">HEIGHT2”</text><path d="M0.264,0 L0.359,0 L0.359,0.688 L0.290,0.688 C0.270,0.610 0.200,0.545 0.092,0.530 L0.092,0.455 C0.170,0.462 0.230,0.490 0.264,0.530 Z" transform="translate(221.28,0) scale(31.4,-31.4)" stroke="#f7efe9" stroke-width="0.0111"/></g>
<g transform="translate(0,507.40) scale(1.0000,1)" fill="#f7efe9"><text x="1036.02 1057.90 1078.05 1085.97 1109.60 1131.48 1171.43 1188.09" y="0" font-size="31.4" stroke="#f7efe9" stroke-width="0.35">HEIGHT6”</text><path d="M0.264,0 L0.359,0 L0.359,0.688 L0.290,0.688 C0.270,0.610 0.200,0.545 0.092,0.530 L0.092,0.455 C0.170,0.462 0.230,0.490 0.264,0.530 Z" transform="translate(1156.37,0) scale(31.4,-31.4)" stroke="#f7efe9" stroke-width="0.0111"/></g>
<g transform="translate(0,975.00) scale(1.0000,1)" fill="#f7efe9"><text x="1041.02 1063.10 1083.45 1091.57 1115.40 1137.48 1178.03 1194.89" y="0" font-size="31.4" stroke="#f7efe9" stroke-width="0.35">HEIGHT8”</text><path d="M0.264,0 L0.359,0 L0.359,0.688 L0.290,0.688 C0.270,0.610 0.200,0.545 0.092,0.530 L0.092,0.455 C0.170,0.462 0.230,0.490 0.264,0.530 Z" transform="translate(1162.77,0) scale(31.4,-31.4)" stroke="#f7efe9" stroke-width="0.0111"/></g>
<g transform="translate(0,1391.40) scale(1.0000,1)" fill="#f7efe9"><text x="433.07 459.03 477.92 495.39 505.81 523.03 540.25 555.77 581.43" y="0" font-size="30.5" stroke="#f7efe9" stroke-width="0.35">2Ft(60cm)</text></g>
<g transform="translate(0,900.40) scale(1.0000,1)" fill="#f7efe9"><text x="1146.41 1165.63 1171.95 1184.59 1202.84 1215.73 1228.62 1240.18 1259.60" y="0" font-size="23.6" stroke="#f7efe9" stroke-width="0.35">2ft(20cm)</text><path d="M0.264,0 L0.359,0 L0.359,0.688 L0.290,0.688 C0.270,0.610 0.200,0.545 0.092,0.530 L0.092,0.455 C0.170,0.462 0.230,0.490 0.264,0.530 Z" transform="translate(1191.15,0) scale(23.6,-23.6)" stroke="#f7efe9" stroke-width="0.0148"/></g>
<g transform="translate(0,1370.40) scale(1.0000,1)" fill="#f7efe9"><text x="1155.81 1174.78 1188.84 1201.23 1219.23 1232.00 1244.76 1256.20 1275.50" y="0" font-size="23.6" stroke="#f7efe9" stroke-width="0.35">2Ft(50cm)</text><path d="M0.264,0 L0.359,0 L0.359,0.688 L0.290,0.688 C0.270,0.610 0.200,0.545 0.092,0.530 L0.092,0.455 C0.170,0.462 0.230,0.490 0.264,0.530 Z" transform="translate(1207.67,0) scale(23.6,-23.6)" stroke="#f7efe9" stroke-width="0.0148"/></g>
<g transform="translate(936.00,0) rotate(90) scale(1.0000,1)" fill="#f7efe9"><text x="848.77 874.97 893.98 911.69 922.23 939.57 956.91 972.55 998.33" y="0" font-size="30.5" stroke="#f7efe9" stroke-width="0.3">2Ft(60cm)</text></g>
<g transform="translate(1396.50,0) rotate(90) scale(1.0000,1)" fill="#f7efe9"><text x="635.28 654.45 660.67 673.11 691.29 704.24 717.19 728.79 748.44" y="0" font-size="24.2" stroke="#f7efe9" stroke-width="0.3">2ft(20cm)</text><path d="M0.264,0 L0.359,0 L0.359,0.688 L0.290,0.688 C0.270,0.610 0.200,0.545 0.092,0.530 L0.092,0.455 C0.170,0.462 0.230,0.490 0.264,0.530 Z" transform="translate(679.57,0) scale(24.2,-24.2)" stroke="#f7efe9" stroke-width="0.0124"/></g>
<g transform="translate(1396.50,0) rotate(90) scale(1.0000,1)" fill="#f7efe9"><text x="1099.78 1119.05 1125.31 1137.84 1156.11 1169.10 1182.10 1193.74 1213.44" y="0" font-size="24.2" stroke="#f7efe9" stroke-width="0.3">2ft(50cm)</text><path d="M0.264,0 L0.359,0 L0.359,0.688 L0.290,0.688 C0.270,0.610 0.200,0.545 0.092,0.530 L0.092,0.455 C0.170,0.462 0.230,0.490 0.264,0.530 Z" transform="translate(1144.34,0) scale(24.2,-24.2)" stroke="#f7efe9" stroke-width="0.0124"/></g>
<g transform="translate(0,155.50) scale(0.9999,1)" fill="#ffffff"><text x="88.94 162.60 219.32 241.97 270.31 327.03 360.99" y="0" font-size="102">Uniform</text></g>
<g transform="translate(0,155.50) scale(1.0109,1)" fill="#ffffff"><text x="465.36 522.66 545.89 603.19 660.49" y="0" font-size="102">Light</text></g>
<g transform="translate(0,155.50) scale(0.9888,1)" fill="#ffffff"><text x="730.93 803.90 859.93 910.23 966.26 999.53 1055.56 1111.59" y="0" font-size="102">Coverage</text></g>
<g transform="translate(0,246.50) scale(0.9983,1)" fill="#ffffff"><text x="95.56 127.29 151.70 176.12 198.07" y="0" font-size="44" stroke="#060203" stroke-width="0.6">Dense</text></g>
<g transform="translate(0,246.50) scale(0.9813,1)" fill="#ffffff"><text x="237.11" y="0" font-size="44" stroke="#060203" stroke-width="0.6">&amp;</text></g>
<g transform="translate(0,246.50) scale(1.0165,1)" fill="#ffffff"><text x="265.57 297.74 322.61 332.79 345.41 370.28 385.34" y="0" font-size="44" stroke="#060203" stroke-width="0.6">Uniform</text></g>
<g transform="translate(0,246.50) scale(0.9879,1)" fill="#ffffff"><text x="442.98 471.96 500.93 527.44 558.84" y="0" font-size="44" stroke="#060203" stroke-width="0.6">PPFD.</text></g>
<g transform="translate(0,246.50) scale(0.9995,1)" fill="#ffffff"><text x="577.71 604.57 629.02" y="0" font-size="44" stroke="#060203" stroke-width="0.6">The</text></g>
<g transform="translate(0,246.50) scale(1.0217,1)" fill="#ffffff"><text x="646.78 684.09 709.21 731.86" y="0" font-size="44" stroke="#060203" stroke-width="0.6">most</text></g>
<g transform="translate(0,246.50) scale(1.0193,1)" fill="#ffffff"><text x="757.08 781.99 806.91 817.13 829.80 854.71 869.81" y="0" font-size="44" stroke="#060203" stroke-width="0.6">uniform</text></g>
<g transform="translate(0,246.50) scale(0.9813,1)" fill="#ffffff"><text x="951.26" y="0" font-size="44" stroke="#060203" stroke-width="0.6">&amp;</text></g>
<g transform="translate(0,246.50) scale(1.0005,1)" fill="#ffffff"><text x="971.85 996.34 1020.82 1045.31 1067.32" y="0" font-size="44" stroke="#060203" stroke-width="0.6">dense</text></g>
<g transform="translate(0,246.50) scale(0.9798,1)" fill="#ffffff"><text x="1124.33 1152.81 1181.28" y="0" font-size="44" stroke="#060203" stroke-width="0.6">PAR</text></g>
<g transform="translate(0,246.50) scale(1.0215,1)" fill="#ffffff"><text x="1170.94 1208.44 1233.76" y="0" font-size="44" stroke="#060203" stroke-width="0.6">map</text></g>
<g transform="translate(0,300.30) scale(1.0126,1)" fill="#ffffff"><text x="93.92 118.69 128.76 138.83 163.60 195.67" y="0" font-size="44" stroke="#060203" stroke-width="0.6">allows</text></g>
<g transform="translate(0,300.30) scale(1.0321,1)" fill="#ffffff"><text x="222.23 235.23 260.48" y="0" font-size="44" stroke="#060203" stroke-width="0.6">for</text></g>
<g transform="translate(0,300.30) scale(1.0065,1)" fill="#ffffff"><text x="290.98 327.84 352.51 367.37" y="0" font-size="44" stroke="#060203" stroke-width="0.6">more</text></g>
<g transform="translate(0,300.30) scale(1.0334,1)" fill="#ffffff"><text x="390.30 400.71 411.11 436.20 461.30" y="0" font-size="44" stroke="#060203" stroke-width="0.6">light</text></g>
<g transform="translate(0,300.30) scale(1.0120,1)" fill="#ffffff"><text x="497.17 509.80" y="0" font-size="44" stroke="#060203" stroke-width="0.6">to</text></g>
<g transform="translate(0,300.30) scale(1.0104,1)" fill="#ffffff"><text x="543.68 568.39 593.09 617.79 642.50 654.96 669.84 694.54 707.00" y="0" font-size="44" stroke="#060203" stroke-width="0.6">penetrate</text></g>
<g transform="translate(0,300.30) scale(1.0103,1)" fill="#ffffff"><text x="741.59 766.33 791.08 815.82 840.57 865.31" y="0" font-size="44" stroke="#060203" stroke-width="0.6">deeper</text></g>
<g transform="translate(0,300.30) scale(1.0401,1)" fill="#ffffff"><text x="862.79 875.97 901.41" y="0" font-size="44" stroke="#060203" stroke-width="0.6">for</text></g>
<g transform="translate(0,300.30) scale(1.0124,1)" fill="#ffffff"><text x="950.91 963.49 988.32" y="0" font-size="44" stroke="#060203" stroke-width="0.6">the</text></g>
<g transform="translate(0,300.30) scale(1.0090,1)" fill="#ffffff"><text x="1025.21 1049.88 1059.86 1084.54 1109.22 1133.89 1156.10" y="0" font-size="44" stroke="#060203" stroke-width="0.6">highest</text></g>
<g transform="translate(0,300.30) scale(1.0110,1)" fill="#ffffff"><text x="1177.23 1201.92 1226.62 1251.32 1261.32 1271.32 1283.77" y="0" font-size="44" stroke="#060203" stroke-width="0.6">quality</text></g>
<g transform="translate(0,360.40) scale(0.9984,1)" fill="#ffffff"><text x="87.91 112.34 122.09 146.53 170.97 183.16 205.13" y="0" font-size="44" stroke="#060203" stroke-width="0.6">plants.</text></g>
<g transform="translate(0,360.40) scale(1.0069,1)" fill="#ffffff"><text x="235.69 265.20 275.13" y="0" font-size="44" stroke="#060203" stroke-width="0.6">All</text></g>
<g transform="translate(0,360.40) scale(0.9955,1)" fill="#ffffff"><text x="299.80 331.47 355.83 365.49 375.16" y="0" font-size="44" stroke="#060203" stroke-width="0.6">while</text></g>
<g transform="translate(0,360.40) scale(0.9979,1)" fill="#ffffff"><text x="410.20 432.14 456.56 480.98 502.92 527.34 563.93 573.65 598.07" y="0" font-size="44" stroke="#060203" stroke-width="0.6">consuming</text></g>
<g transform="translate(0,360.40) scale(0.9906,1)" fill="#ffffff"><text x="637.17 661.39 685.61 695.14" y="0" font-size="44" stroke="#060203" stroke-width="0.6">only</text></g>
<g transform="translate(0,360.40) scale(0.9894,1)" fill="#ffffff"><text x="748.74 772.81 796.89" y="0" font-size="44" stroke="#060203" stroke-width="0.6">50W</text><path d="M0.264,0 L0.359,0 L0.359,0.688 L0.290,0.688 C0.270,0.610 0.200,0.545 0.092,0.530 L0.092,0.455 C0.170,0.462 0.230,0.490 0.264,0.530 Z" transform="translate(724.66,0) scale(44,-44)" stroke="#060203" stroke-width="0.0136"/></g>
<g transform="translate(0,360.40) scale(1.0041,1)" fill="#ffffff"><text x="838.77 851.10 875.67" y="0" font-size="44" stroke="#060203" stroke-width="0.6">for</text></g>
<g transform="translate(0,360.40) scale(0.9909,1)" fill="#ffffff"><text x="912.58 948.95 973.14 994.86 1004.35 1040.72 1064.91" y="0" font-size="44" stroke="#060203" stroke-width="0.6">maximum</text></g>
<g transform="translate(0,360.40) scale(1.0049,1)" fill="#ffffff"><text x="1095.18 1119.75 1132.06 1144.38 1154.25 1176.34 1186.21 1210.77 1235.33 1257.42 1279.52" y="0" font-size="44" stroke="#060203" stroke-width="0.6">efficiency.</text></g>
</svg>
</body></html>
